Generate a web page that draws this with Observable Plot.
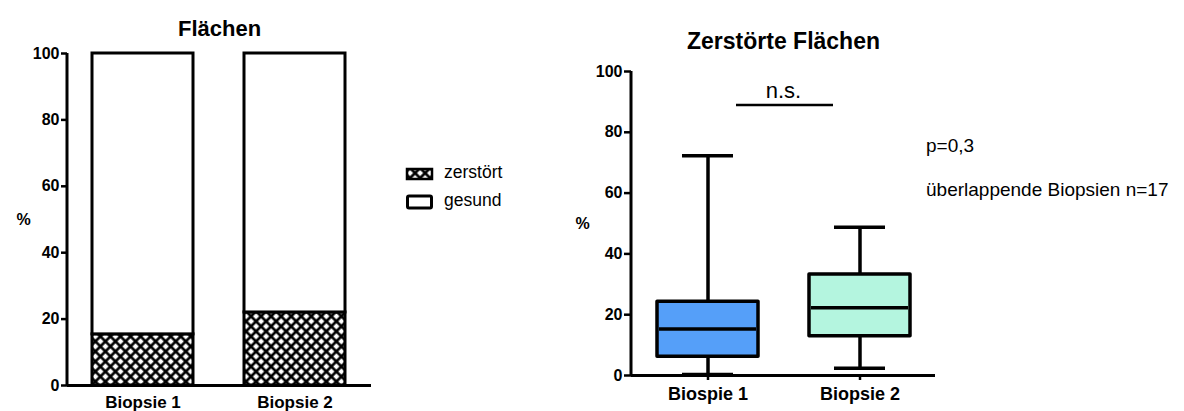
<!DOCTYPE html>
<html>
<head>
<meta charset="utf-8">
<script src="https://cdn.jsdelivr.net/npm/d3@7"></script>
<script src="https://cdn.jsdelivr.net/npm/@observablehq/plot@0.6"></script>
<style>
  html, body { margin: 0; padding: 0; background: #fff; }
  body { font-family: "Liberation Sans", Arial, Helvetica, sans-serif; color: #000; }
  #root { position: relative; width: 1184px; height: 411px; overflow: hidden; background: #fff; }
  #root > svg { position: absolute; top: 0; }
  .note { position: absolute; font-size: 19px; line-height: 19px; white-space: nowrap; }
  .leg { position: absolute; font-size: 17.5px; line-height: 17px; white-space: nowrap; }
  svg [aria-label^="y-axis"] line, svg [aria-label^="y-axis"] path,
  svg [aria-label^="x-axis"] line, svg [aria-label^="x-axis"] path { stroke-width: 2.5px; }
  #leftplot [aria-label^="x-axis"] text { font-size: 17px; }
  #rightplot [aria-label^="x-axis"] text { font-size: 18px; }
</style>
</head>
<body>
<div id="root"></div>
<script>
// ---------- data ----------
const biopsien = ["Biopsie 1", "Biopsie 2"];
const kategorien = ["zerstört", "gesund"];
const zerstoert = [15.4, 22.0];
const gesund = [84.6, 78.0];

const boxLabels = ["Biospie 1", "Biopsie 2"];
const boxMin = [0.3, 2.4];
const boxQ1 = [6.2, 12.9];
const boxMedian = [15.3, 22.3];
const boxQ3 = [24.3, 33.2];
const boxMax = [72.3, 48.8];
const boxColors = ["#559ff9", "#b4f5df"];

const yTicks = [0, 20, 40, 60, 80, 100];
const nsY = [89];
const nsText = ["n.s."];
const titles = ["Flächen", "Zerstörte Flächen"];
const notes = ["p=0,3", "überlappende Biopsien n=17"];

// ---------- helpers ----------
const NS = "http://www.w3.org/2000/svg";
const FONT = '"Liberation Sans", Arial, Helvetica, sans-serif';
function yAxisLine(index, scales, values, dims) {
  const line = document.createElementNS(NS, "line");
  const x = dims.marginLeft;
  const y = scales && typeof scales.y === "function" ? scales.y : null;
  line.setAttribute("x1", x);
  line.setAttribute("x2", x);
  line.setAttribute("y1", y ? y(yTicks[0]) : dims.height - dims.marginBottom);
  line.setAttribute("y2", y ? y(yTicks[yTicks.length - 1]) : dims.marginTop);
  line.setAttribute("stroke", "black");
  line.setAttribute("stroke-width", 3);
  return line;
}
function addHatch(svg) {
  const defs = document.createElementNS(NS, "defs");
  defs.innerHTML = '<pattern id="hatch" patternUnits="userSpaceOnUse" width="7.1" height="7.1" patternTransform="rotate(45)">' +
    '<rect width="7.1" height="7.1" fill="white"/>' +
    '<path d="M0,3.55H7.1M3.55,0V7.1" stroke="black" stroke-width="2.7"/></pattern>';
  svg.insertBefore(defs, svg.firstChild);
}

const root = document.getElementById("root");

// ---------- left chart: stacked bars ----------
const stackRows = biopsien.flatMap((b, i) => [
  {b, k: kategorien[0], v: zerstoert[i]},
  {b, k: kategorien[1], v: gesund[i]}
]);

const left = Plot.plot({
  width: 380, height: 411,
  marginLeft: 67, marginRight: 9, marginTop: 53, marginBottom: 26,
  style: {fontFamily: FONT, fontSize: "16px", fontWeight: "bold", background: "transparent", overflow: "visible", color: "black"},
  x: {domain: biopsien, paddingInner: 0.333, paddingOuter: 0.16, tickSize: 0, tickPadding: 10, label: null},
  y: {domain: [0, 100], ticks: yTicks, tickSize: 6, tickPadding: 2, label: null},
  color: {domain: kategorien, range: ["url(#hatch)", "white"]},
  marks: [
    Plot.barY(stackRows, {x: "b", y: "v", fill: "k", stroke: "black", strokeWidth: 3}),
    Plot.ruleY([0], {stroke: "black", strokeWidth: 3}),
    yAxisLine,
    Plot.text([titles[0]], {text: d => d, frameAnchor: "top", dy: -33, fontSize: 22, fontWeight: "bold"}),
    Plot.text(["%"], {text: d => d, frameAnchor: "left", dx: -51, fontSize: 16, fontWeight: "bold"})
  ]
});
addHatch(left);
left.id = "leftplot";
left.style.left = "0px";
root.appendChild(left);

// ---------- legend ----------
const leg = document.createElementNS(NS, "svg");
leg.setAttribute("width", 40); leg.setAttribute("height", 50);
leg.style.left = "400px"; leg.style.top = "163px";
leg.innerHTML =
  '<rect x="7" y="6" width="25" height="10" fill="url(#hatch)" stroke="black" stroke-width="2.5"/>' +
  '<rect x="7.5" y="33" width="24" height="12" rx="1.5" fill="white" stroke="black" stroke-width="3"/>';
root.appendChild(leg);
[[kategorien[0], 164], [kategorien[1], 192]].forEach(([t, top]) => {
  const d = document.createElement("div");
  d.className = "leg"; d.textContent = t;
  d.style.left = "444px"; d.style.top = top + "px";
  root.appendChild(d);
});

// ---------- right chart: box plot ----------
const boxRows = boxLabels.map((b, i) => ({
  b, min: boxMin[i], q1: boxQ1[i], med: boxMedian[i], q3: boxQ3[i], max: boxMax[i], c: boxColors[i]
}));

const right = Plot.plot({
  width: 380, height: 411,
  marginLeft: 71, marginRight: 5, marginTop: 71, marginBottom: 36,
  style: {fontFamily: FONT, fontSize: "16px", fontWeight: "bold", background: "transparent", overflow: "visible", color: "black"},
  x: {domain: boxLabels, paddingInner: 0.336, paddingOuter: 0.168, tickSize: 5, tickPadding: 7, label: null},
  y: {domain: [0, 100], ticks: yTicks, tickSize: 7, tickPadding: 2, label: null},
  color: {type: "identity"},
  marks: [
    Plot.ruleX(boxRows, {x: "b", y1: "min", y2: "max", stroke: "black", strokeWidth: 3.5}),
    Plot.tickY(boxRows, {x: "b", y: "min", stroke: "black", strokeWidth: 3.5, insetLeft: 25, insetRight: 25}),
    Plot.tickY(boxRows, {x: "b", y: "max", stroke: "black", strokeWidth: 3.5, insetLeft: 25, insetRight: 25}),
    Plot.barY(boxRows, {x: "b", y1: "q1", y2: "q3", fill: "c", stroke: "black", strokeWidth: 3.5, strokeLinejoin: "round"}),
    Plot.tickY(boxRows, {x: "b", y: "med", stroke: "black", strokeWidth: 3.5, insetLeft: 2, insetRight: 2}),
    Plot.ruleY([0], {stroke: "black", strokeWidth: 3}),
    yAxisLine,
    Plot.ruleY(nsY, {stroke: "black", strokeWidth: 2.5, insetLeft: 105, insetRight: 102}),
    Plot.text(nsText, {text: d => d, y: () => nsY[0], frameAnchor: "middle", dy: -14, fontSize: 22, fontWeight: "normal"}),
    Plot.text([titles[1]], {text: d => d, frameAnchor: "top", dy: -39, fontSize: 23, fontWeight: "bold"}),
    Plot.text(["%"], {text: d => d, frameAnchor: "left", dx: -56, fontSize: 16, fontWeight: "bold"})
  ]
});
right.id = "rightplot";
right.style.left = "560px";
root.appendChild(right);

// ---------- notes ----------
[[notes[0], 136], [notes[1], 180]].forEach(([t, top]) => {
  const d = document.createElement("div");
  d.className = "note"; d.textContent = t;
  d.style.left = "926px"; d.style.top = top + "px";
  root.appendChild(d);
});
</script>
</body>
</html>
